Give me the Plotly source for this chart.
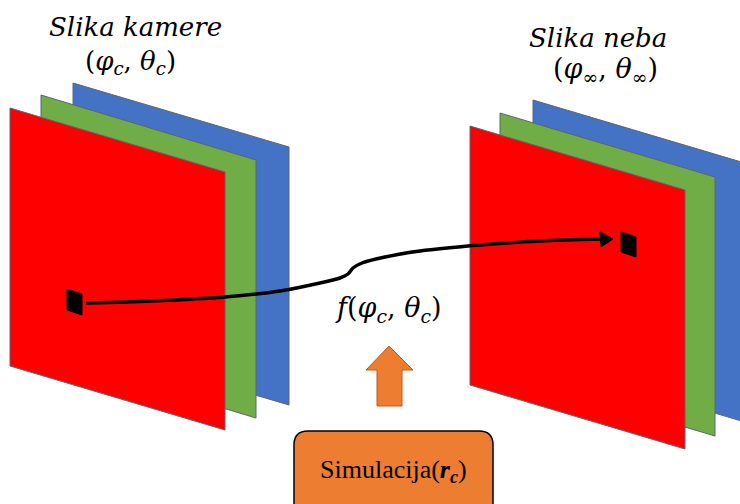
import plotly.graph_objects as go

W, H = 740, 504

# Plane stacks (vertices of parallelograms, pixel space, y downwards)
left_blue  = [(73, 83), (289, 147), (289, 405), (73, 341)]
left_green = [(41, 95), (256, 160), (256, 418), (41, 353)]
left_red   = [(10, 108), (225, 172), (225, 430), (10, 366)]
right_blue  = [(533, 100), (748, 164), (748, 423), (533, 359)]
right_green = [(500, 113), (715, 177), (715, 436), (500, 372)]
right_red   = [(470, 126), (685, 190), (685, 449), (470, 385)]
left_pixel  = [(67, 289), (82, 294), (82, 315), (67, 310)]
right_pixel = [(621, 232), (636, 237), (636, 257), (621, 252)]

# Mapping curve
curve_x = [86, 150, 225, 280, 320, 340, 348, 353, 362, 385, 420, 480, 540, 603]
curve_y = [303, 301, 297, 291, 283, 278, 274, 268, 263, 257, 251, 245, 241, 239]
arrow_head = [(613, 239), (600, 232), (601, 247)]

# Orange up arrow
up_arrow = [(389, 346), (413, 370), (402, 370), (402, 406), (377, 406), (377, 370), (366, 370)]

# Simulation box
box = dict(x0=294, x1=493, y0=431, y1=516, r=14)

RED, GREEN, BLUE, ORANGE = "#FF0000", "#70AD47", "#4472C4", "#ED7D31"
EDGE = "#5B6670"

fig = go.Figure()

def poly(pts, fill, line_color=EDGE, lw=1):
    xs = [p[0] for p in pts] + [pts[0][0]]
    ys = [p[1] for p in pts] + [pts[0][1]]
    fig.add_trace(go.Scatter(x=xs, y=ys, mode="lines", fill="toself",
                             fillcolor=fill, line=dict(color=line_color, width=lw),
                             hoverinfo="skip", showlegend=False))

for pts, c in [(left_blue, BLUE), (left_green, GREEN), (left_red, RED),
               (right_blue, BLUE), (right_green, GREEN), (right_red, RED)]:
    poly(pts, c)
poly(left_pixel, "black", "black")
poly(right_pixel, "black", "black")

fig.add_trace(go.Scatter(x=curve_x, y=curve_y, mode="lines",
                         line=dict(color="black", width=3.5, shape="spline", smoothing=0.8),
                         hoverinfo="skip", showlegend=False))
poly(arrow_head, "black", "black")
poly(up_arrow, ORANGE, "#C55A11", 1)

b = box
r = b["r"]
path = (f"M {b['x0']+r},{b['y0']} L {b['x1']-r},{b['y0']} Q {b['x1']},{b['y0']} {b['x1']},{b['y0']+r} "
        f"L {b['x1']},{b['y1']-r} Q {b['x1']},{b['y1']} {b['x1']-r},{b['y1']} "
        f"L {b['x0']+r},{b['y1']} Q {b['x0']},{b['y1']} {b['x0']},{b['y1']-r} "
        f"L {b['x0']},{b['y0']+r} Q {b['x0']},{b['y0']} {b['x0']+r},{b['y0']} Z")
fig.add_shape(type="path", path=path, xref="x", yref="y",
              fillcolor=ORANGE, line=dict(color="black", width=1.5), layer="above")

MATH = "DejaVu Serif"
def text(x, y, s, size, family=MATH):
    fig.add_annotation(x=x, y=y, text=s, showarrow=False, xref="x", yref="y",
                       font=dict(family=family, size=size, color="black"),
                       xanchor="center", yanchor="middle")

text(135, 27, "<i>Slika kamere</i>", 26)
text(130, 62, "(<i>φ</i><sub><i>c</i></sub>, <i>θ</i><sub><i>c</i></sub>)", 26)
text(598, 38, "<i>Slika neba</i>", 26)
text(605, 70, "(<i>φ</i><sub>∞</sub>, <i>θ</i><sub>∞</sub>)", 27)
text(388, 309, "<i>f</i>(<i>φ</i><sub><i>c</i></sub>, <i>θ</i><sub><i>c</i></sub>)", 27)
text(393, 471, "Simulacija(<b><i>r</i></b><sub><b><i>c</i></b></sub>)", 26, "Liberation Serif")

fig.update_xaxes(range=[0, W], visible=False, fixedrange=True)
fig.update_yaxes(range=[H, 0], visible=False, fixedrange=True)
fig.update_layout(width=W, height=H, margin=dict(l=0, r=0, t=0, b=0),
                  paper_bgcolor="white", plot_bgcolor="white", showlegend=False)
fig.write_html("out.html", config={"displayModeBar": False},
               post_script="document.body.style.margin='0';document.body.style.overflow='hidden';")
